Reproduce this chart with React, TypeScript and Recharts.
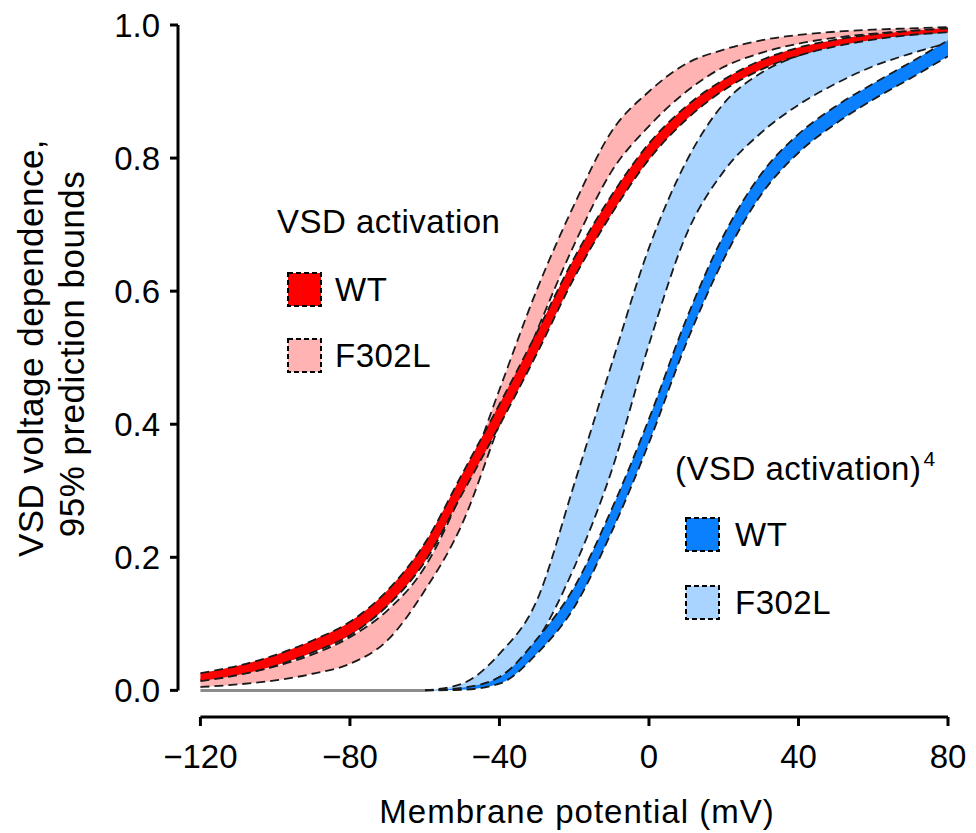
import React from 'react';
import { ComposedChart, Area, Line, XAxis, YAxis, ReferenceLine } from 'recharts';

// membrane potential grid (mV)
const voltages = [-120, -110, -100, -90, -80, -70, -60, -50, -40, -30, -20, -10, 0, 10, 20, 30, 40, 50, 60, 70, 80];

// VSD activation, WT (narrow band)
const redWtLow = [0.014, 0.023, 0.037, 0.057, 0.083, 0.127, 0.193, 0.295, 0.398, 0.506, 0.62, 0.716, 0.798, 0.858, 0.902, 0.933, 0.954, 0.968, 0.978, 0.985, 0.989];
const redWtHigh = [0.026, 0.037, 0.053, 0.075, 0.103, 0.15, 0.221, 0.325, 0.43, 0.538, 0.65, 0.744, 0.822, 0.878, 0.918, 0.947, 0.966, 0.978, 0.986, 0.991, 0.995];

// VSD activation, F302L
const pinkLow = [0.005, 0.009, 0.015, 0.025, 0.04, 0.075, 0.15, 0.25, 0.4, 0.54, 0.67, 0.78, 0.848, 0.9, 0.937, 0.958, 0.972, 0.981, 0.987, 0.991, 0.994];
const pinkHigh = [0.016, 0.024, 0.036, 0.054, 0.08, 0.12, 0.185, 0.3, 0.452, 0.602, 0.73, 0.84, 0.9, 0.942, 0.963, 0.977, 0.985, 0.99, 0.993, 0.995, 0.997];

// (VSD activation)^4, WT
const blueWtLow = [null, null, null, null, null, null, 0, 0.001, 0.01, 0.055, 0.125, 0.238, 0.372, 0.522, 0.648, 0.745, 0.808, 0.852, 0.888, 0.92, 0.953];
const blueWtHigh = [null, null, null, null, null, null, 0, 0.004, 0.02, 0.077, 0.155, 0.272, 0.408, 0.558, 0.684, 0.776, 0.836, 0.878, 0.912, 0.944, 0.977];

// (VSD activation)^4, F302L
const lightBlueLow = [null, null, null, null, null, null, 0, 0.002, 0.02, 0.075, 0.185, 0.33, 0.52, 0.685, 0.78, 0.838, 0.88, 0.912, 0.938, 0.957, 0.973];
const lightBlueHigh = [null, null, null, null, null, null, 0, 0.01, 0.055, 0.135, 0.31, 0.49, 0.665, 0.795, 0.882, 0.928, 0.954, 0.97, 0.98, 0.986, 0.99];

// flat part of the ^4 curves before they lift off
const floorLine = [0, 0, 0, 0, 0, 0, 0, null, null, null, null, null, null, null, null, null, null, null, null, null, null];

const xTicks = [-120, -80, -40, 0, 40, 80];
const yTicks = [0, 0.2, 0.4, 0.6, 0.8, 1.0];

const pair = (lo: (number | null)[], hi: (number | null)[], i: number) =>
  lo[i] == null || hi[i] == null ? null : [lo[i], hi[i]];

const data = voltages.map((v, i) => ({
  v,
  redWt: pair(redWtLow, redWtHigh, i),
  pink: pair(pinkLow, pinkHigh, i),
  blueWt: pair(blueWtLow, blueWtHigh, i),
  lightBlue: pair(lightBlueLow, lightBlueHigh, i),
  floor: floorLine[i],
}));

const FONT = '"Liberation Sans", Arial, Helvetica, sans-serif';
const DASH = '9 5';
const EDGE = '#1a1a1a';

const COLORS = {
  red: '#ff0000',
  pink: '#ffb3b3',
  blue: '#0a80ff',
  lightBlue: '#a8d4ff',
};

const fmtX = (v: number) => (v < 0 ? `\u2212${Math.abs(v)}` : `${v}`);

const LegendBox = ({ x, y, fill }: { x: number; y: number; fill: string }) => (
  <rect x={x} y={y} width={33} height={33} fill={fill} stroke="#000" strokeWidth={2} strokeDasharray="5 3" />
);

const bandProps = {
  type: 'monotone' as const,
  fillOpacity: 1,
  stroke: EDGE,
  strokeWidth: 1.8,
  strokeDasharray: DASH,
  dot: false,
  activeDot: false,
  isAnimationActive: false,
};

export default function App() {
  return (
    <div style={{ position: 'absolute', left: 0, top: 0, width: 976, height: 833, background: '#fff' }}>
      <ComposedChart
        width={976}
        height={833}
        data={data}
        margin={{ top: 25, right: 28, bottom: 56, left: 98 }}
      >
        <XAxis
          dataKey="v"
          type="number"
          domain={[-126, 80]}
          ticks={xTicks}
          tickFormatter={fmtX}
          axisLine={false}
          tickSize={9}
          tickMargin={19}
          height={60}
          tickLine={{ stroke: '#000', strokeWidth: 3 }}
          tick={{ fontSize: 33, fill: '#000', fontFamily: FONT }}
          allowDataOverflow
        />
        <YAxis
          type="number"
          domain={[-0.04, 1]}
          ticks={yTicks}
          tickFormatter={(v: number) => v.toFixed(1)}
          axisLine={false}
          tickSize={8}
          tickMargin={10}
          width={80}
          tickLine={{ stroke: '#000', strokeWidth: 3 }}
          tick={{ fontSize: 33, fill: '#000', fontFamily: FONT }}
          allowDataOverflow
        />
        <ReferenceLine segment={[{ x: -120, y: -0.04 }, { x: 80, y: -0.04 }]} stroke="#000" strokeWidth={3} />
        <ReferenceLine segment={[{ x: -126, y: 0 }, { x: -126, y: 1 }]} stroke="#000" strokeWidth={3} />

        <Line dataKey="floor" type="linear" stroke="#8c8c8c" strokeWidth={3} dot={false} activeDot={false} isAnimationActive={false} />
        <Area dataKey="pink" fill={COLORS.pink} {...bandProps} />
        <Area dataKey="lightBlue" fill={COLORS.lightBlue} {...bandProps} />
        <Area dataKey="redWt" fill={COLORS.red} {...bandProps} />
        <Area dataKey="blueWt" fill={COLORS.blue} {...bandProps} />
      </ComposedChart>

      <svg width={976} height={833} style={{ position: 'absolute', left: 0, top: 0, pointerEvents: 'none' }} fontFamily={FONT}>
        {/* axis titles */}
        <text transform="translate(43,348) rotate(-90)" textAnchor="middle" fontSize={35} letterSpacing={0.5} fill="#000">
          VSD voltage dependence,
        </text>
        <text transform="translate(84,354) rotate(-90)" textAnchor="middle" fontSize={35} letterSpacing={0.5} fill="#000">
          95% prediction bounds
        </text>
        <text x={577} y={823} textAnchor="middle" fontSize={33} letterSpacing={1} fill="#000">
          Membrane potential (mV)
        </text>

        {/* legend: VSD activation */}
        <text x={277} y={233} fontSize={33} letterSpacing={0.5} fill="#000">VSD activation</text>
        <LegendBox x={288} y={273} fill={COLORS.red} />
        <text x={335} y={301} fontSize={33} letterSpacing={0.5} fill="#000">WT</text>
        <LegendBox x={288} y={339} fill={COLORS.pink} />
        <text x={335} y={367} fontSize={33} letterSpacing={0.5} fill="#000">F302L</text>

        {/* legend: (VSD activation)^4 */}
        <text x={675} y={480} fontSize={33} letterSpacing={0.5} fill="#000">
          (VSD activation)
          <tspan fontSize={21} dy={-14} dx={2}>4</tspan>
        </text>
        <LegendBox x={686} y={518} fill={COLORS.blue} />
        <text x={735} y={546} fontSize={33} letterSpacing={0.5} fill="#000">WT</text>
        <LegendBox x={686} y={586} fill={COLORS.lightBlue} />
        <text x={735} y={614} fontSize={33} letterSpacing={0.5} fill="#000">F302L</text>
      </svg>
    </div>
  );
}
